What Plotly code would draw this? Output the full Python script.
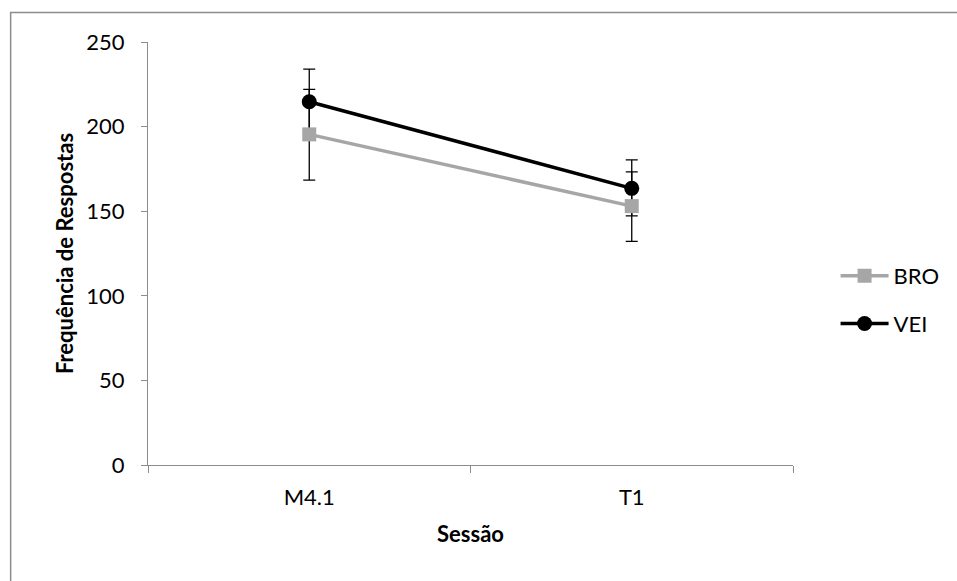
import plotly.graph_objects as go

sessions = ["M4.1", "T1"]
bro_values = [195.4, 153.0]
bro_err_plus = [26.6, 20.3]
bro_err_minus = [27.0, 20.8]
vei_values = [214.7, 163.5]
vei_err_plus = [19.3, 16.8]
vei_err_minus = [19.0, 16.3]

FONT = "Lato"
FS = 22
AXIS_GRAY = "#8c8c8c"

fig = go.Figure()

fig.add_trace(go.Scatter(
    x=sessions, y=vei_values, name="VEI", mode="lines+markers",
    legendgroup="vei", legendrank=2,
    line=dict(color="black", width=3.5),
    marker=dict(symbol="circle", size=15, color="black"),
    error_y=dict(type="data", symmetric=False, array=vei_err_plus,
                 arrayminus=vei_err_minus, color="black", thickness=1.3, width=6),
))
fig.add_trace(go.Scatter(
    x=sessions, y=bro_values, name="BRO", mode="lines+markers",
    legendgroup="bro", legendrank=1,
    line=dict(color="#a6a6a6", width=3.5),
    marker=dict(symbol="square", size=14, color="#a6a6a6"),
    error_y=dict(type="data", symmetric=False, array=bro_err_plus,
                 arrayminus=bro_err_minus, color="black", thickness=1.3, width=6),
))

fig.update_layout(
    width=957, height=581,
    margin=dict(l=148, r=161, t=42, b=116),
    paper_bgcolor="white", plot_bgcolor="white",
    font=dict(family=FONT, size=FS, color="black"),
    showlegend=True,
    legend=dict(x=1.066, y=0.39, xanchor="left", yanchor="middle",
                traceorder="grouped", tracegroupgap=16, itemwidth=48,
                font=dict(family=FONT, size=FS, color="black"),
                bgcolor="rgba(0,0,0,0)"),
    xaxis=dict(
        type="category", range=[-0.5, 1.5],
        showline=True, linecolor=AXIS_GRAY, linewidth=1.3,
        ticks="outside", tickson="boundaries", ticklen=7, tickcolor=AXIS_GRAY,
        ticklabelstandoff=12,
        showgrid=False, zeroline=False,
        tickfont=dict(family=FONT, size=FS, color="black"),
        title=dict(text="<b>Sessão</b>", font=dict(family=FONT, size=FS, color="black"),
                   standoff=18),
    ),
    yaxis=dict(
        range=[0, 250], dtick=50,
        showline=True, linecolor=AXIS_GRAY, linewidth=1.3,
        ticks="outside", ticklen=6, tickcolor=AXIS_GRAY,
        ticklabelstandoff=12,
        showgrid=False, zeroline=False,
        tickfont=dict(family=FONT, size=FS, color="black"),
        title=dict(text="<b>Frequência de Respostas</b>",
                   font=dict(family=FONT, size=FS, color="black"), standoff=6),
    ),
    shapes=[dict(type="rect", xref="paper", yref="paper",
                 x0=(10 - 148) / 648, x1=1.4,
                 y0=-0.4, y1=(465 - 12.5) / 423,
                 line=dict(color=AXIS_GRAY, width=1.5), layer="below")],
)

fig.write_html("out.html", config={"displayModeBar": False},
               post_script="document.body.style.margin='0';document.body.style.overflow='hidden';")
